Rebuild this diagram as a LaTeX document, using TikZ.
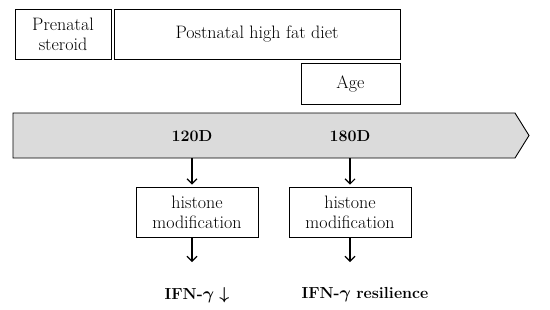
\documentclass[tikz,border=0pt]{standalone}
\usepackage{amsmath,amssymb,bm}
\usetikzlibrary{arrows.meta,positioning}
\begin{document}
\begin{tikzpicture}[x=1pt,y=-1pt,
  box/.style={draw=black,line width=0.9pt,fill=white,inner sep=0pt,align=center,font=\fontsize{18}{20}\selectfont},
  lbl/.style={font=\fontsize{16}{19}\selectfont\bfseries,inner sep=0pt},
  arr/.style={line width=1.1pt,-{Straight Barb[length=5pt,width=10pt,line width=1.1pt]},shorten >=2pt}]
\useasboundingbox (0,0) rectangle (550,309);
% top boxes
\node[box,minimum width=96pt,minimum height=50pt] (pre) at (63,34) {Prenatal\\steroid};
\node[box,minimum width=286pt,minimum height=50pt] (post) at (257,34) {Postnatal high fat diet};
\node[box,minimum width=99pt,minimum height=41pt] (age) at (350.5,83.5) {Age};
% timeline band
\draw[line width=0.9pt,fill=black!14] (13,113) coordinate (b1) -- (515,113) -- (529,135.5) coordinate (tip) -- (515,158) -- (13,158) -- cycle;
\node[lbl] (d120) at (192,136) {120D};
\node[lbl] (d180) at (350,136) {180D};
\coordinate (s1) at (192,158);
\coordinate (s2) at (350,158);
% histone boxes
\node[box,minimum width=122pt,minimum height=50pt] (h1) at (197,212) {histone\\modification};
\node[box,minimum width=122pt,minimum height=50pt] (h2) at (350,212) {histone\\modification};
\draw[arr] (s1) -- (s1 |- h1.north);
\draw[arr] (s2) -- (s2 |- h2.north);
% outcomes
\node[lbl] (o1) at (197,295) {IFN-$\bm{\gamma}$\,\,$\bm{\downarrow}$};
\node[lbl] (o2) at (365,295) {IFN-$\bm{\gamma}$\,\,resilience};
\coordinate (e1) at (192,264);
\coordinate (e2) at (350,264);
\draw[arr] (s1 |- h1.south) -- (e1);
\draw[arr] (s2 |- h2.south) -- (e2);
\end{tikzpicture}
\end{document}
